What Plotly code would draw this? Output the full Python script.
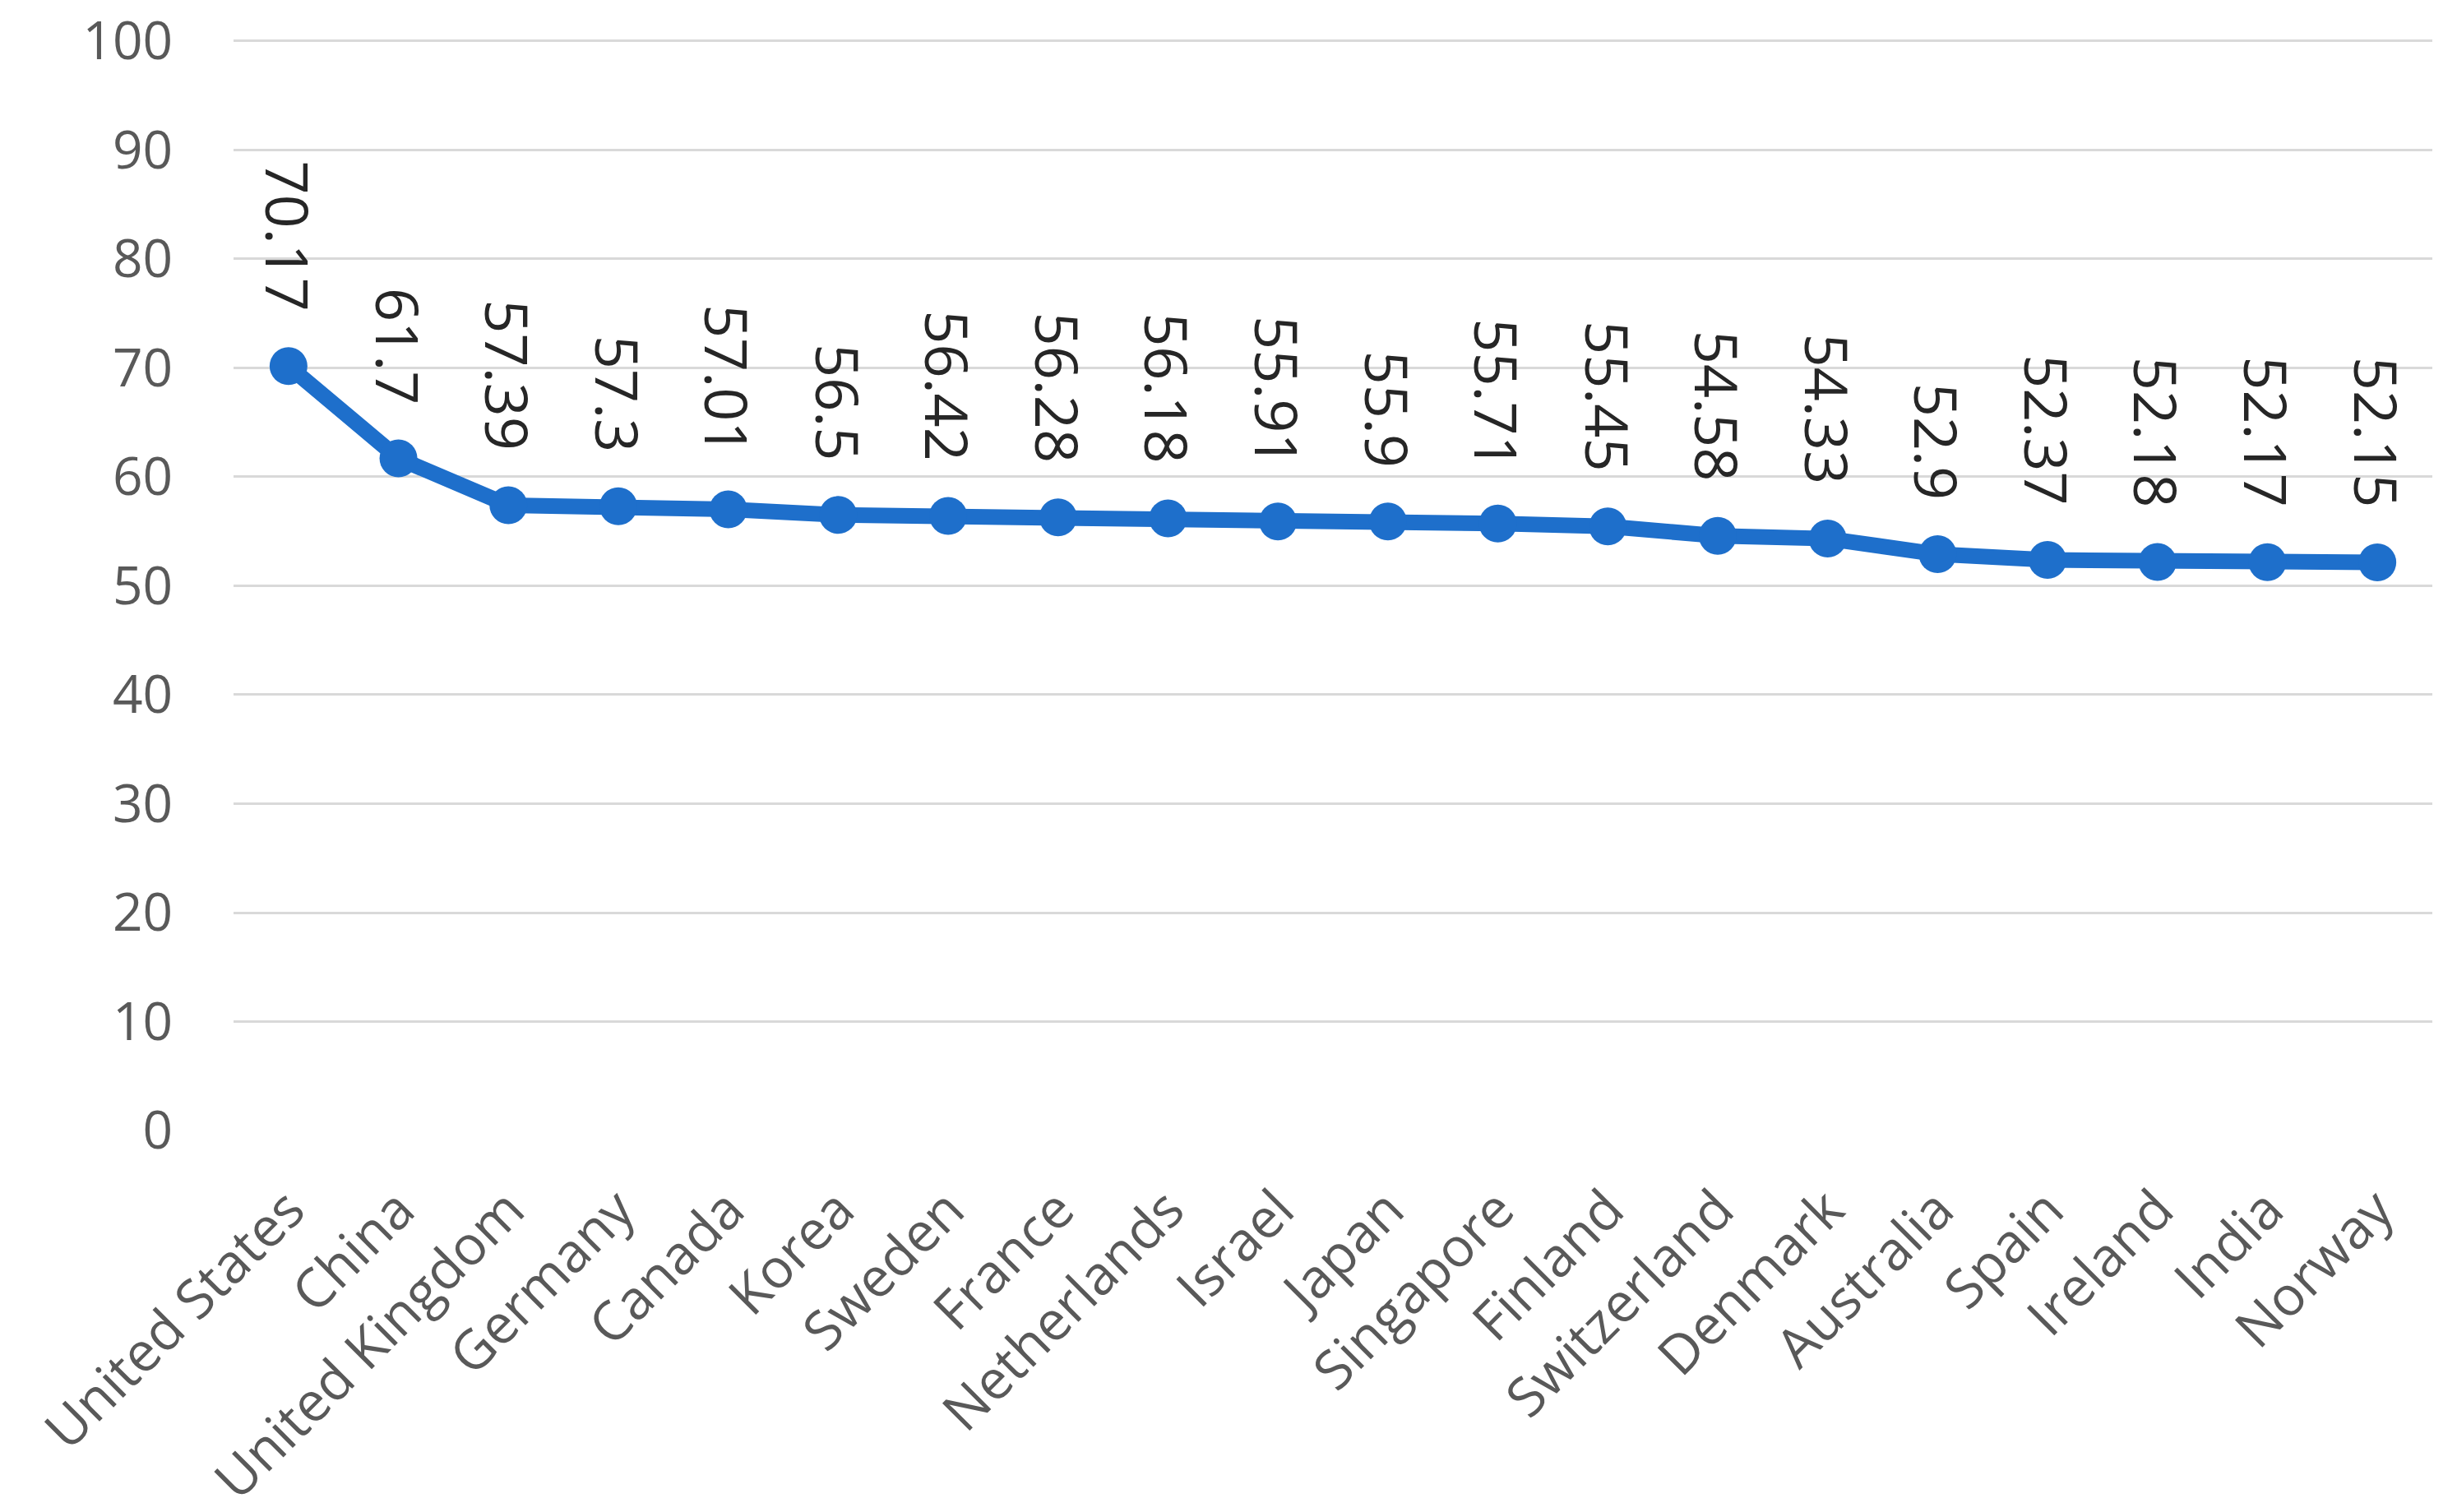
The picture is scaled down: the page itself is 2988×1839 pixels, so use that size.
import plotly.graph_objects as go

countries = ["United States", "China", "United Kingdom", "Germany", "Canada", "Korea",
             "Sweden", "France", "Netherlands", "Israel", "Japan", "Singapore", "Finland",
             "Switzerland", "Denmark", "Australia", "Spain", "Ireland", "India", "Norway"]
values = [70.17, 61.7, 57.39, 57.3, 57.01, 56.5, 56.42, 56.28, 56.18, 55.91, 55.9,
          55.71, 55.45, 54.58, 54.33, 52.9, 52.37, 52.18, 52.17, 52.15]
value_labels = ["70.17", "61.7", "57.39", "57.3", "57.01", "56.5", "56.42", "56.28", "56.18",
                "55.91", "55.9", "55.71", "55.45", "54.58", "54.33", "52.9", "52.37", "52.18",
                "52.17", "52.15"]
y_ticks = [0, 10, 20, 30, 40, 50, 60, 70, 80, 90, 100]

BLUE = "#1E6FCB"
FONT = "Open Sans"

fig = go.Figure()
fig.add_trace(go.Scatter(
    x=countries, y=values, mode="lines+markers",
    line=dict(color=BLUE, width=19),
    marker=dict(color=BLUE, size=46),
    hoverinfo="skip", showlegend=False,
))

for c, v, t in zip(countries, values, value_labels):
    fig.add_annotation(
        x=c, y=v, xref="x", yref="y", text=t, showarrow=False,
        textangle=90, yanchor="bottom", xanchor="center", yshift=64,
        font=dict(family=FONT, size=72, color="#262626"),
    )

fig.update_layout(
    width=2988, height=1839,
    margin=dict(l=276, r=38, t=38, b=472, autoexpand=False),
    plot_bgcolor="white", paper_bgcolor="white",
    font=dict(family=FONT, color="#595959"),
)
fig.update_xaxes(
    type="category", range=[-0.5, len(countries) - 0.5],
    tickangle=-45, tickfont=dict(family=FONT, size=66, color="#595959"),
    showgrid=False, showline=False, zeroline=False, automargin=False,
    ticks="outside", ticklen=30, tickcolor="rgba(0,0,0,0)",
)
fig.update_yaxes(
    range=[0, 100.3], tickvals=y_ticks,
    tickfont=dict(family=FONT, size=64, color="#595959"),
    ticklabeloverflow="allow", automargin=False,
    showgrid=True, gridcolor="#D9D9D9", gridwidth=3,
    zeroline=False, showline=False,
    ticks="outside", ticklen=60, tickcolor="rgba(0,0,0,0)",
)

fig.write_html("out.html")
